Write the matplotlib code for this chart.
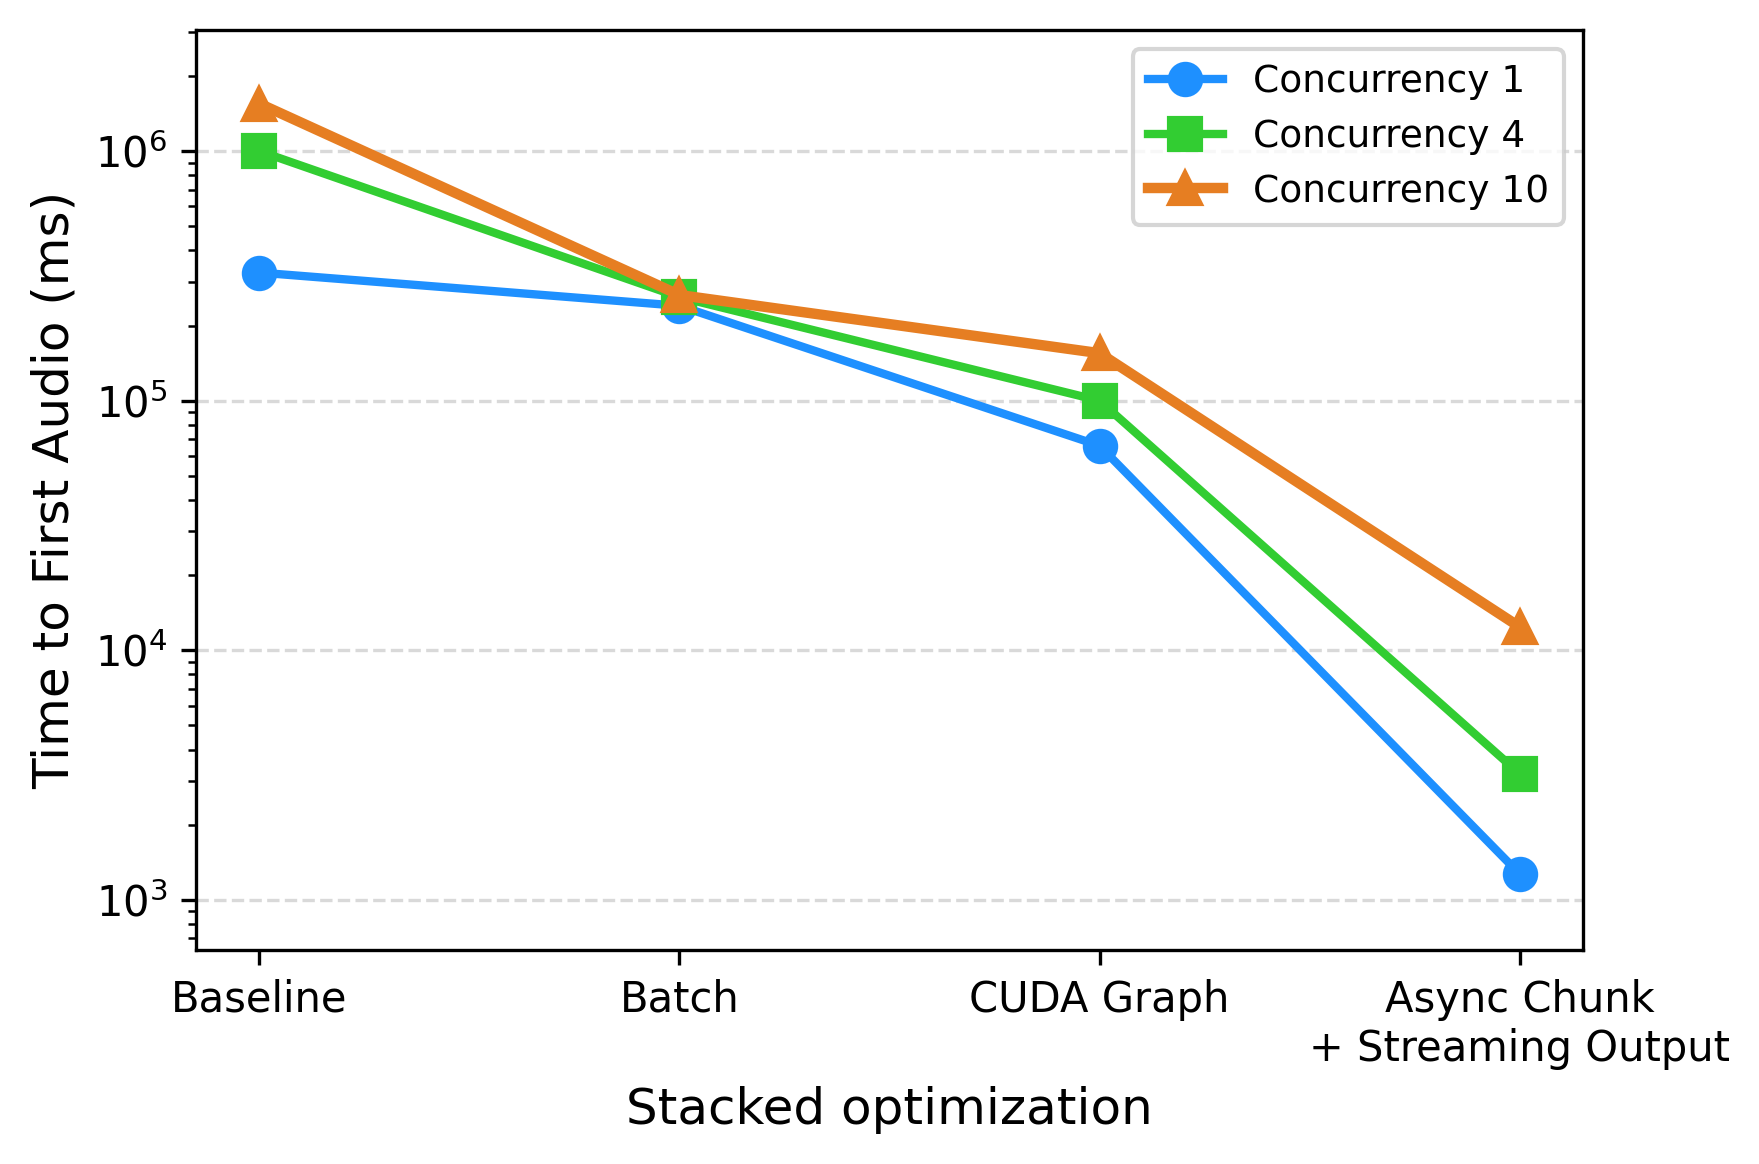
import matplotlib
matplotlib.use("Agg")
import matplotlib.pyplot as plt
import numpy as np

# stacked optimization stages
stages = ["Baseline", "Batch", "CUDA Graph", "Async Chunk\n+ Streaming Output"]

# time to first audio (ms)
conc_1 = [3.26e5, 2.40e5, 6.6e4, 1.27e3]
conc_4 = [1.0e6, 2.6e5, 1.0e5, 3.2e3]
conc_10 = [1.55e6, 2.65e5, 1.55e5, 1.24e4]

series = [
    ("Concurrency 1", conc_1, "o", "#1E90FF", 2.0),
    ("Concurrency 4", conc_4, "s", "#32CD32", 2.0),
    ("Concurrency 10", conc_10, "^", "#E67E22", 2.5),
]

fig = plt.figure(figsize=(1760 / 300, 1164 / 300), dpi=300)
ax = fig.add_axes([0.1116, 0.184, 0.7876, 0.790])

x = np.arange(len(stages))
for label, vals, marker, color, lw in series:
    ax.plot(x, vals, marker=marker, color=color, linewidth=lw,
            markersize=7.5, label=label)

ax.set_yscale("log")
ax.set_ylim(630, 3.05e6)
ax.set_xlim(-0.15, 3.15)
ax.set_xticks(x)
ax.set_xticklabels(stages, fontsize=10)
ax.tick_params(axis="y", labelsize=10)
ax.set_xlabel("Stacked optimization", fontsize=12)
ax.set_ylabel("Time to First Audio (ms)", fontsize=12)
ax.grid(axis="y", which="major", linestyle="--", color="#d9d9d9", linewidth=0.8)
ax.set_axisbelow(True)
ax.legend(loc="upper right", fontsize=9)

fig.savefig("out.png", dpi=300)
